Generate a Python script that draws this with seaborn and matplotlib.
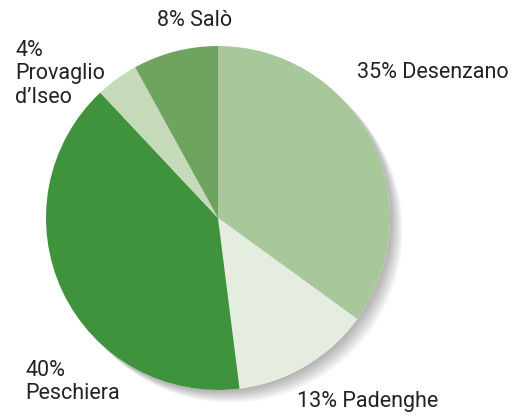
import matplotlib
matplotlib.use("Agg")
import matplotlib.pyplot as plt
import matplotlib.patheffects as pe
import seaborn as sns

# data, clockwise from 12 o'clock
towns = ["Desenzano", "Padenghe", "Peschiera", "Provaglio\nd\u2019Iseo", "Salò"]
shares = [35, 13, 40, 4, 8]
colors = ["#a8c79a", "#e4ede0", "#3f933c", "#c4dab8", "#6ea460"]

sns.set_theme(style="white")
plt.rcParams["font.family"] = ["Roboto", "DejaVu Sans"]

fig = plt.figure(figsize=(5.28, 4.16), dpi=100)
ax = fig.add_axes([0, 0, 1, 1])

# soft drop shadow: a whole disc underneath, smeared with a few offsets
shadow = [pe.SimplePatchShadow(offset=(o, -o), shadow_rgbFace="black", alpha=0.035)
          for o in (1, 2, 3, 4, 5, 6, 7, 8, 9)]
base, _ = ax.pie([sum(shares)], colors=["white"], center=(218, 198), radius=172,
                 frame=True, wedgeprops=dict(linewidth=0))
base[0].set_path_effects(shadow + [pe.Normal()])

wedges, _ = ax.pie(shares, colors=colors, startangle=90, counterclock=False,
                   center=(218, 198), radius=172, frame=True,
                   wedgeprops=dict(linewidth=0))
ax.set_xlim(0, 528)
ax.set_ylim(0, 416)
ax.set_aspect("equal")
ax.axis("off")

txt = dict(fontsize=15.5, color="#222222", va="center", ha="left", linespacing=1.15)
# label anchors in pixel layout (x, y from top)
spots = [(357, 72), (297, 401), (25, 382), (15, 74), (157, 20)]
for town, share, (x, y) in zip(towns, shares, spots):
    if town in ("Peschiera", "Provaglio\nd\u2019Iseo"):
        label = f"{share}%\n{town}"
    else:
        label = f"{share}% {town}"
    ax.text(x, 416 - y, label, **txt)

fig.savefig("out.png", dpi=100)
